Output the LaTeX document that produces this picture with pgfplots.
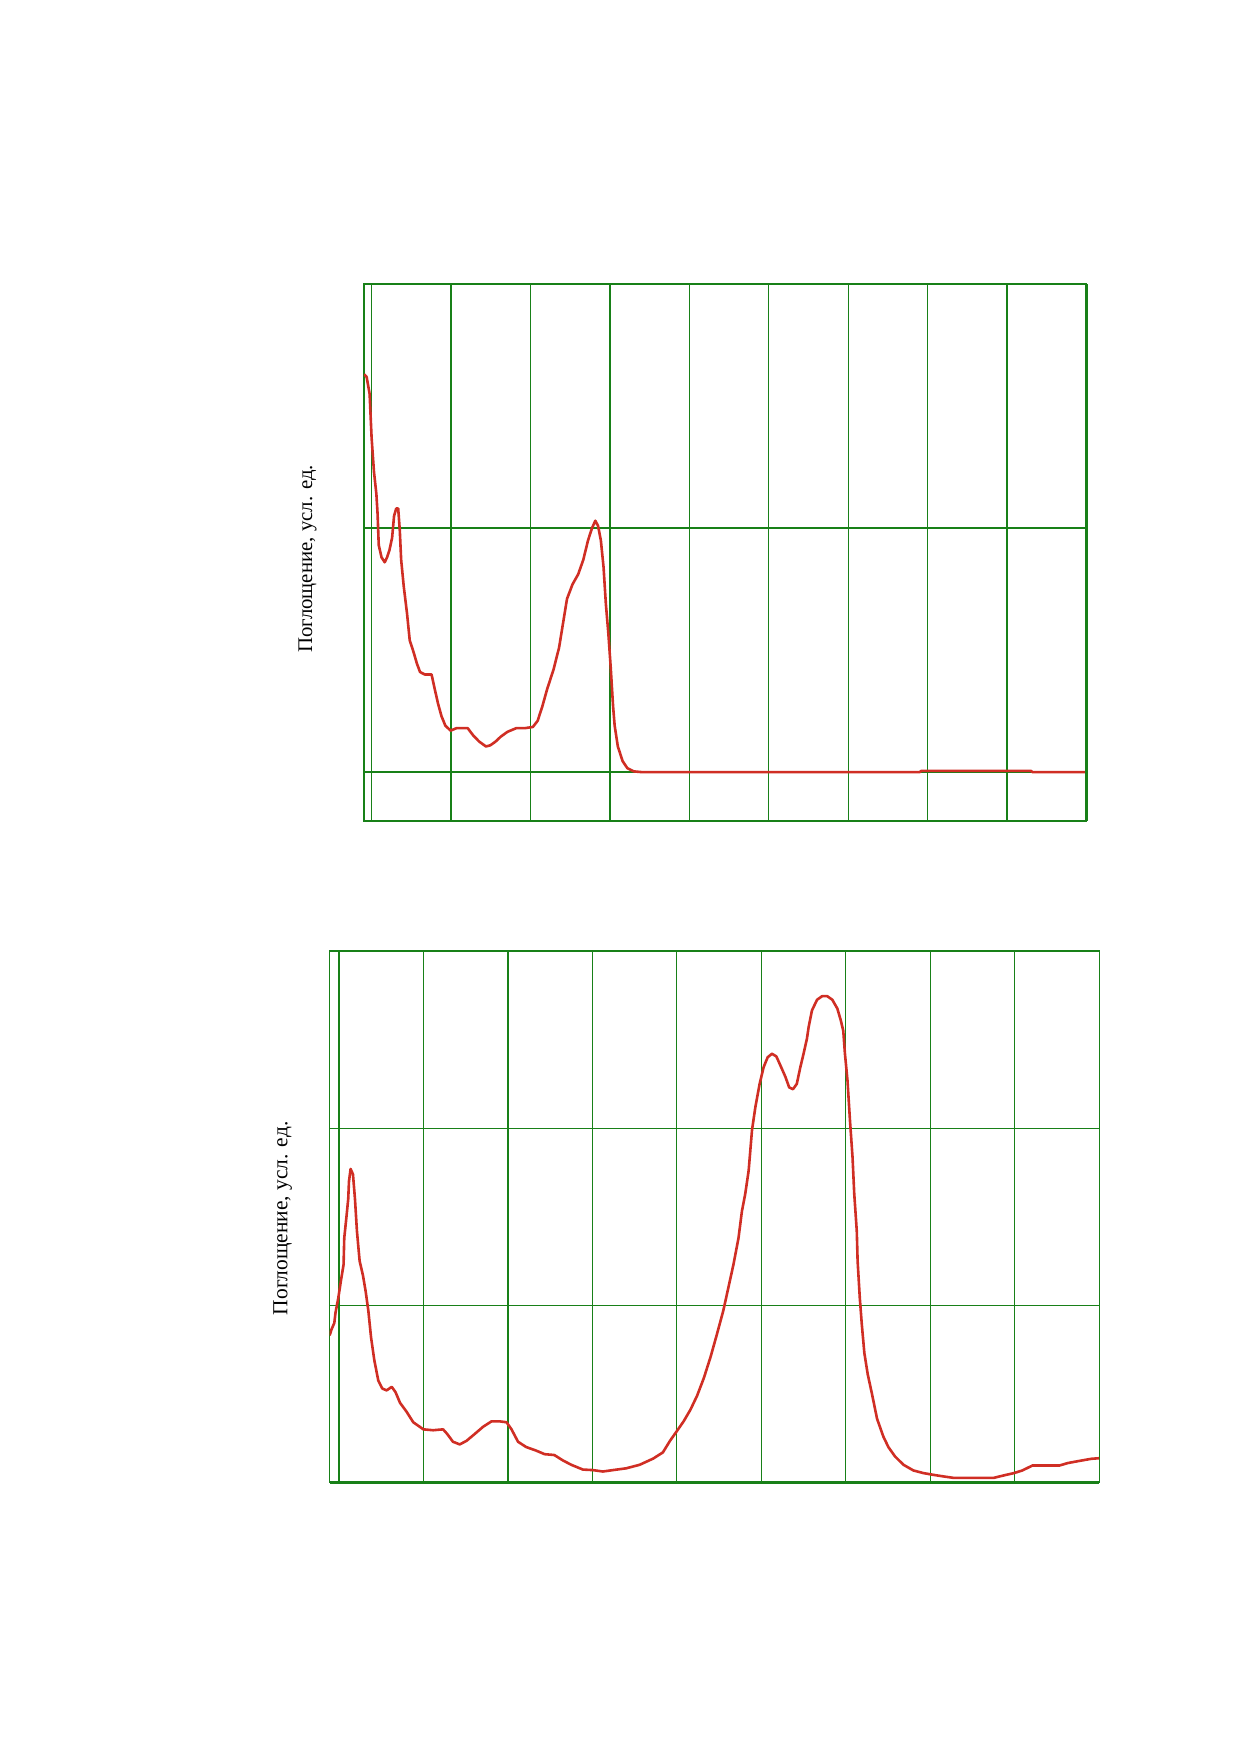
\documentclass[border=0pt]{standalone}
\usepackage{pgfplots}
\pgfplotsset{compat=1.18}
\usepackage{pgfplotstable}
\usepackage{fontspec}
\setmainfont{Liberation Serif}
\definecolor{gridgreen}{RGB}{24,128,24}
\definecolor{curvered}{RGB}{208,46,36}

\pgfplotstableread{
x y
190.4 1.63
193.7 1.62
197.5 1.55
200 1.37
203 1.23
206 1.14
207.5 1.06
209 0.93
212.5 0.88
216.5 0.86
219.5 0.88
222.5 0.91
225.8 0.96
228.3 1.05
231 1.08
233.5 1.08
235.5 0.99
237.2 0.87
240.5 0.76
244.6 0.65
248 0.54
253 0.49
257 0.445
261 0.41
267 0.40
275.5 0.40
279.5 0.34
283.7 0.28
287.9 0.23
292.9 0.19
299.5 0.17
306.8 0.18
313 0.18
321 0.18
328 0.15
335.5 0.125
344 0.105
349.5 0.11
356 0.125
362.5 0.145
371 0.165
382 0.18
392.7 0.18
403 0.185
409 0.21
415 0.27
421 0.34
429 0.42
436 0.51
441 0.61
446 0.71
453 0.77
460 0.81
466.5 0.87
472.5 0.95
477.5 1.00
481.6 1.03
485 1.01
488.6 0.95
492 0.84
494.9 0.69
498 0.57
501 0.43
504 0.27
506 0.19
510 0.105
516 0.045
522 0.016
530 0.003
540 0
890 0
892 0.005
1030 0.005
1032 0
1100 0
}\toptable

\pgfplotstableread{
x y
189 0.83
191.3 0.865
194.5 0.90
196 0.96
199.2 1.04
202.4 1.14
205.5 1.23
206.3 1.38
208.7 1.49
211 1.60
211.9 1.70
213.8 1.77
216.6 1.74
219 1.60
221.3 1.42
224.5 1.25
228.4 1.17
231.6 1.08
234.8 0.97
238 0.82
241.9 0.69
246.6 0.575
251.4 0.53
256.5 0.52
262.5 0.54
267 0.51
272.3 0.45
280 0.40
288 0.34
300 0.30
311.5 0.295
323.3 0.30
328 0.275
335 0.23
343 0.215
351 0.235
361 0.275
370.8 0.315
380.6 0.345
390.5 0.345
398.4 0.34
404.3 0.30
412 0.23
421.7 0.20
433.5 0.18
443.4 0.16
455 0.155
465 0.125
475 0.10
488.8 0.073
500.6 0.07
512.5 0.062
524.3 0.07
540 0.08
556 0.10
572 0.135
583.5 0.17
592 0.236
600 0.29
608 0.345
616 0.41
624 0.49
632 0.59
640 0.71
647.4 0.836
655 0.97
661 1.10
667 1.23
673 1.38
677 1.53
681 1.63
685 1.76
689 1.99
693 2.12
698 2.25
702.8 2.345
707.5 2.40
712.6 2.42
717.8 2.405
722.5 2.355
728.5 2.29
733 2.23
737.5 2.22
742 2.25
746 2.34
750 2.42
754 2.505
756 2.57
760 2.665
766 2.725
772 2.745
778 2.745
784 2.725
790 2.675
794 2.61
797 2.55
799 2.42
802 2.27
805 2.04
808 1.835
810 1.63
813 1.42
814 1.25
816.6 1.04
819 0.89
822 0.73
826 0.61
831 0.50
837 0.36
844.4 0.26
850.4 0.20
858.3 0.147
868.3 0.10
880 0.068
892 0.053
904 0.043
916 0.034
927.8 0.026
947.6 0.026
975 0.026
987 0.04
999 0.053
1009 0.068
1021 0.096
1035 0.096
1053 0.096
1063 0.11
1079 0.124
1091 0.134
1100 0.137
}\bottomtable

\pgfplotsset{
  specstyle/.style={
    scale only axis,
    anchor=south west,
    xtick={200,300,...,1100},
    xticklabels={},
    yticklabels={},
    major tick length=0pt,
    grid=major,
    grid style={gridgreen, line width=0.6pt},
    axis line style={gridgreen, line width=0.6pt},
    clip mode=individual,
    ylabel={Поглощение, усл. ед.},
  }
}

\begin{document}
\begin{tikzpicture}
\path[use as bounding box] (0pt,0pt) rectangle (595.28pt,841.89pt);

\begin{axis}[specstyle,
  at={(174.9pt,447.4pt)},
  width=347.2pt, height=258pt,
  xmin=190.4, xmax=1100,
  ymin=-0.2, ymax=2,
  ytick={0,1},
  ylabel style={at={(axis description cs:-0.078,0.488)}, anchor=center, font=\fontsize{10}{12}\selectfont},
]
\addplot[curvered, line width=1.25pt, line join=round] table[x=x,y=y] {\toptable};
\draw[gridgreen, line width=1.2pt] (rel axis cs:1,0) -- (rel axis cs:1,1);
\end{axis}

\begin{axis}[specstyle,
  at={(158.4pt,129.5pt)},
  width=369.8pt, height=255.4pt,
  xmin=189, xmax=1100,
  ymin=0, ymax=3,
  ytick={1,2},
  ylabel style={at={(axis description cs:-0.061,0.497)}, anchor=center, font=\fontsize{10.3}{12}\selectfont},
]
\addplot[curvered, line width=1.25pt, line join=round] table[x=x,y=y] {\bottomtable};
\draw[gridgreen, line width=1.2pt] (rel axis cs:0,0) -- (rel axis cs:1,0);
\end{axis}
\end{tikzpicture}
\end{document}
